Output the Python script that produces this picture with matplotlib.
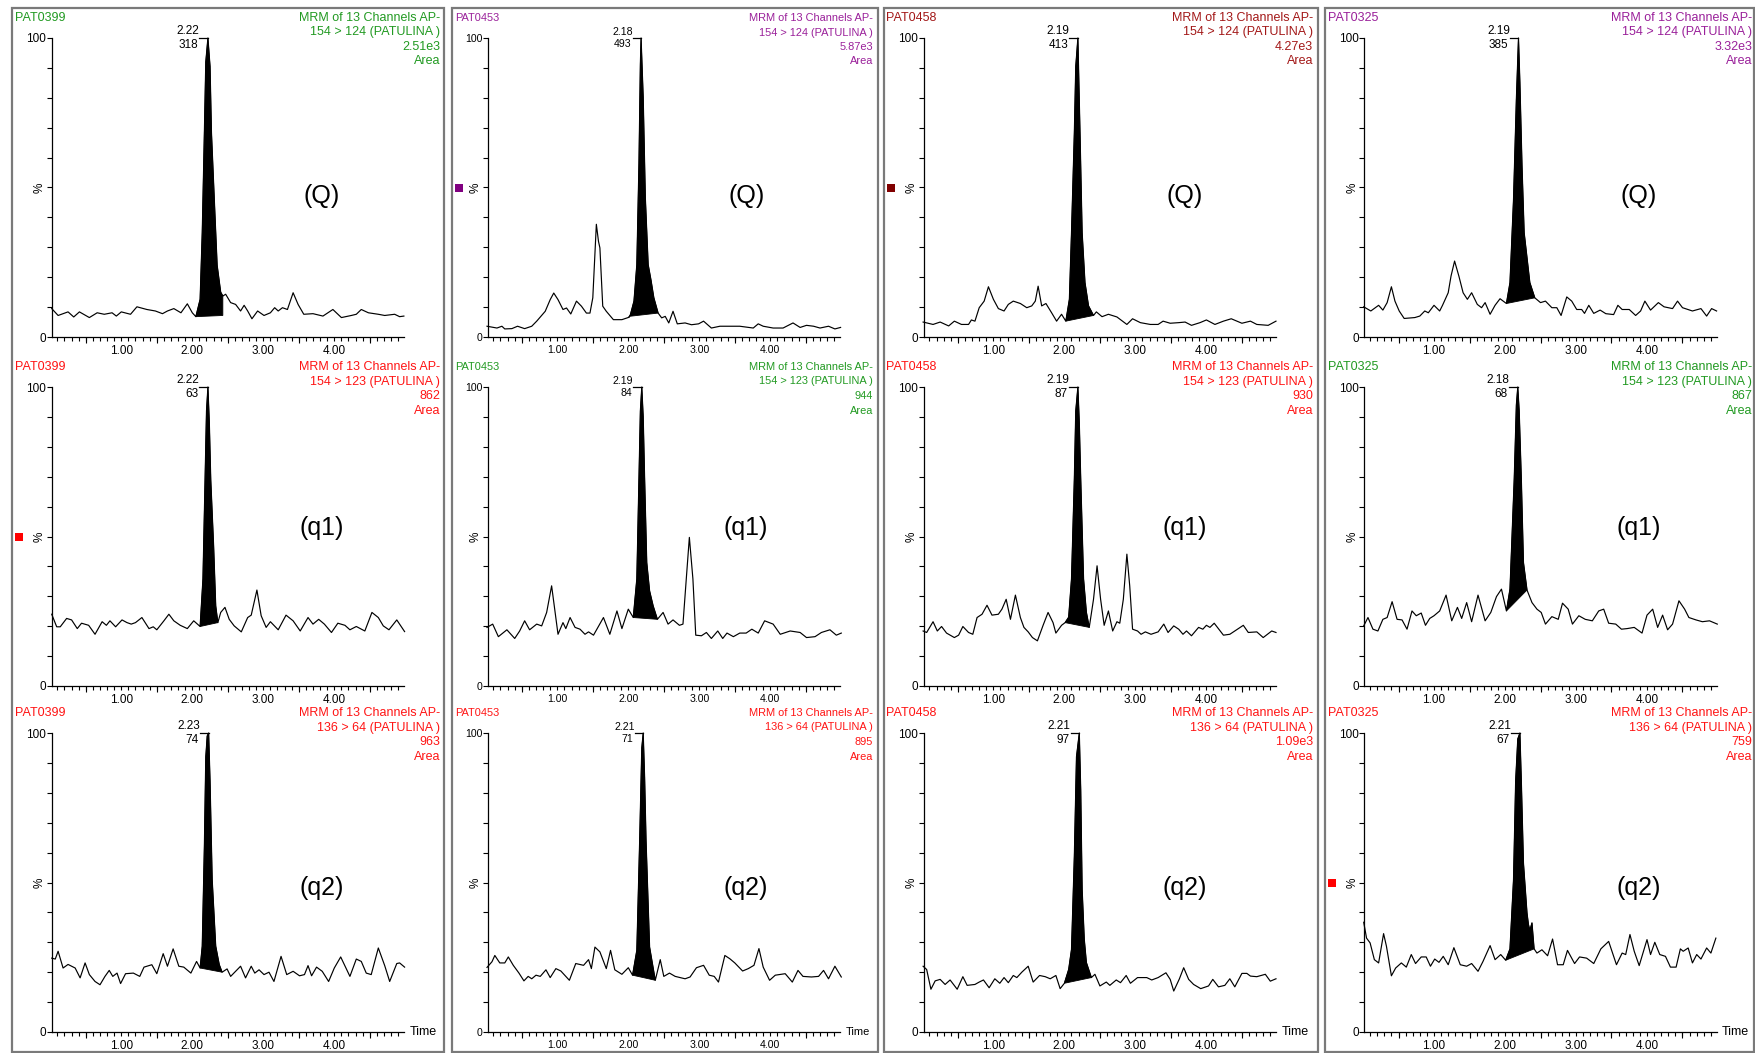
import matplotlib.pyplot as plt
from matplotlib.patches import Rectangle
from matplotlib.ticker import MultipleLocator, FixedLocator
from matplotlib import font_manager

# ---- data (time min, intensity %) ----
r1c1 = [(0.02,9.5),(0.11,7.2),(0.25,8.4),(0.33,6.7),(0.41,8.4),(0.55,6.5),(0.66,8.1),(0.76,7.6),(0.87,8.1),(0.93,7.0),
        (1.00,8.4),(1.13,7.6),(1.22,10.1),(1.36,9.2),(1.48,8.7),(1.58,7.8),(1.65,8.7),(1.74,9.5),(1.84,8.1),(1.93,11.1),
        (2.00,8.1),(2.05,6.8),(2.11,12.6),(2.14,34.9),(2.17,68.3),(2.19,92),(2.22,100),(2.25,90.5),(2.27,68.3),(2.31,46),
        (2.35,24),(2.40,15),(2.43,13.7),(2.47,14.3),(2.54,11.5),(2.61,10.9),(2.68,8.7),(2.73,10.6),(2.78,8.7),(2.84,6.1),
        (2.92,8.7),(3.01,7.2),(3.10,8.1),(3.16,9.8),(3.21,8.7),(3.27,9.8),(3.34,9.2),(3.42,14.8),(3.49,10.9),(3.57,7.6),
        (3.70,7.8),(3.84,7.0),(3.98,9.2),(4.10,6.5),(4.24,7.2),(4.31,7.6),(4.38,9.2),(4.48,8.1),(4.62,7.6),(4.71,7.2),
        (4.85,7.6),(4.92,6.8),(4.98,7.0)]
r1c2 = [(0.01,3.6),(0.15,3.0),(0.22,3.6),(0.26,2.7),(0.36,2.8),(0.44,3.6),(0.54,2.8),(0.64,3.6),(0.71,5.3),(0.83,8.6),
        (0.90,12.5),(0.95,14.7),(1.01,12.5),(1.08,9.2),(1.13,9.7),(1.19,7.7),(1.27,12.0),(1.34,10.3),(1.41,8.0),(1.46,8.0),
        (1.50,13.1),(1.55,37.7),(1.58,32),(1.60,29.8),(1.64,10.3),(1.69,8.6),(1.79,5.8),(1.91,5.8),(2.01,6.6),(2.03,7.5),
        (2.08,12),(2.12,24.2),(2.15,57.8),(2.17,91.3),(2.18,100),(2.21,80.1),(2.24,46.6),(2.28,24.2),(2.32,19),(2.36,13.1),
        (2.42,8.0),(2.47,6.4),(2.52,6.9),(2.57,4.7),(2.63,8.6),(2.69,4.4),(2.80,4.7),(2.89,4.1),(2.99,4.4),(3.06,5.3),
        (3.17,3.0),(3.29,3.6),(3.57,3.6),(3.76,3.0),(3.83,4.4),(3.90,3.6),(4.04,3.0),(4.18,3.0),(4.32,4.7),(4.42,3.2),
        (4.51,3.9),(4.61,3.6),(4.70,3.0),(4.82,3.6),(4.91,2.7),(4.99,3.2)]
r1c3 = [(0.01,5.0),(0.15,4.2),(0.25,5.0),(0.37,3.7),(0.45,5.3),(0.55,4.2),(0.65,4.2),(0.69,5.7),(0.74,5.3),(0.80,9.8),
        (0.87,12.0),(0.93,16.8),(1.00,12.6),(1.07,9.5),(1.15,8.7),(1.21,10.9),(1.28,12.0),(1.38,11.2),(1.47,9.8),(1.54,10.4),
        (1.59,12.0),(1.63,17.0),(1.68,10.4),(1.74,11.2),(1.82,8.1),(1.89,5.3),(1.96,7.6),(2.02,5.3),(2.07,12.6),(2.10,34.9),
        (2.14,68.3),(2.16,90.5),(2.19,100),(2.22,68.3),(2.25,34.9),(2.29,18.2),(2.34,10.4),(2.41,7.2),(2.45,8.4),(2.53,6.8),
        (2.62,7.6),(2.74,6.7),(2.88,4.2),(2.96,6.1),(3.07,4.8),(3.21,4.2),(3.32,4.2),(3.39,5.3),(3.49,4.6),(3.61,4.8),
        (3.70,5.0),(3.79,3.9),(3.91,4.8),(4.00,5.7),(4.12,4.2),(4.24,5.3),(4.35,6.1),(4.50,4.6),(4.62,5.3),(4.71,4.2),
        (4.87,3.9),(4.98,5.3)]
r1c4 = [(0.01,10.1),(0.11,8.7),(0.22,10.6),(0.28,9.0),(0.34,11.5),(0.40,16.8),(0.45,12.0),(0.51,8.7),(0.58,6.2),(0.73,6.5),
        (0.80,7.0),(0.87,8.7),(0.92,8.1),(1.00,10.6),(1.08,8.7),(1.12,10.6),(1.20,14.8),(1.24,20.4),(1.29,25.4),(1.35,20.4),
        (1.41,14.8),(1.47,12.6),(1.53,14.8),(1.61,10.9),(1.67,9.8),(1.72,11.5),(1.79,7.6),(1.86,10.6),(1.93,12.8),(2.02,11.2),
        (2.07,18.2),(2.12,46),(2.16,79.4),(2.19,100),(2.21,85),(2.24,57),(2.27,34.9),(2.35,18.2),(2.42,13.1),(2.50,11.5),
        (2.57,12.0),(2.66,9.8),(2.73,9.8),(2.79,7.2),(2.87,13.4),(2.94,12.0),(3.01,9.2),(3.08,9.2),(3.12,7.9),(3.18,10.6),
        (3.25,7.9),(3.34,9.0),(3.42,7.8),(3.53,7.5),(3.59,10.6),(3.65,9.2),(3.75,9.2),(3.84,7.2),(3.91,8.7),(3.97,12.0),
        (4.05,9.0),(4.16,11.5),(4.24,10.1),(4.36,9.5),(4.43,12.0),(4.50,9.8),(4.64,8.7),(4.76,9.5),(4.84,7.0),(4.91,9.5),
        (4.98,8.7)]

r2c1 = [(0.02,24.0),(0.09,19.8),(0.14,19.8),(0.23,22.6),(0.30,22.1),(0.38,19.2),(0.44,21.0),(0.54,20.3),(0.63,17.3),(0.73,21.5),
        (0.79,20.3),(0.84,21.8),(0.92,19.8),(1.01,22.1),(1.08,21.2),(1.14,20.7),(1.20,21.2),(1.29,22.9),(1.39,19.2),(1.45,19.8),
        (1.50,18.8),(1.60,21.8),(1.67,24.0),(1.74,21.8),(1.83,20.3),(1.93,19.2),(2.02,21.8),(2.11,19.9),(2.15,35.8),(2.18,69.3),
        (2.20,92),(2.22,100),(2.24,88),(2.26,69),(2.30,47),(2.33,26.8),(2.36,21.2),(2.40,24.6),(2.46,26.3),(2.52,22.3),
        (2.59,20.1),(2.69,18.1),(2.78,22.9),(2.83,23.7),(2.91,32.1),(2.97,23.5),(3.04,19.6),(3.10,21.5),(3.21,18.8),(3.32,23.7),
        (3.42,21.8),(3.52,18.4),(3.63,22.9),(3.70,20.7),(3.78,22.3),(3.86,20.7),(3.96,17.9),(4.05,21.0),(4.15,20.3),(4.22,18.8),
        (4.31,19.9),(4.43,18.4),(4.53,24.6),(4.62,22.9),(4.69,20.1),(4.77,18.8),(4.88,22.1),(4.99,18.2)]
r2c2 = [(0.01,19.6),(0.09,20.7),(0.17,16.5),(0.29,18.8),(0.40,15.9),(0.47,18.4),(0.54,21.8),(0.61,18.8),(0.71,20.7),(0.78,20.1),
        (0.85,24.6),(0.92,33.5),(1.01,17.3),(1.08,21.2),(1.12,19.2),(1.18,22.9),(1.25,19.6),(1.32,19.0),(1.39,17.3),(1.44,18.1),
        (1.51,17.0),(1.65,22.9),(1.74,17.3),(1.84,25.1),(1.91,19.2),(2.00,25.7),(2.07,22.9),(2.12,35.8),(2.15,69.3),(2.17,92),
        (2.19,100),(2.21,90),(2.23,69.3),(2.26,41.3),(2.30,31.8),(2.35,26.8),(2.41,22.3),(2.49,24.6),(2.56,20.7),(2.63,22.1),
        (2.72,20.3),(2.77,20.7),(2.82,36.9),(2.86,49.7),(2.91,35.8),(2.95,17.0),(3.03,16.8),(3.10,17.9),(3.17,15.9),(3.26,18.4),
        (3.33,15.9),(3.39,17.7),(3.48,16.5),(3.57,17.7),(3.66,17.7),(3.74,19.0),(3.83,17.7),(3.92,21.8),(4.04,20.7),(4.14,17.3),
        (4.28,18.4),(4.42,17.9),(4.51,16.2),(4.63,16.5),(4.72,17.9),(4.84,18.8),(4.93,17.0),(5.00,17.7)]
r2c3 = [(0.01,18.4),(0.06,17.9),(0.15,21.5),(0.21,18.4),(0.27,19.9),(0.34,17.7),(0.45,16.2),(0.51,17.0),(0.57,19.9),(0.65,17.9),
        (0.71,17.3),(0.77,22.9),(0.84,24.0),(0.91,27.0),(0.98,23.7),(1.07,24.0),(1.12,25.7),(1.18,29.0),(1.24,22.3),(1.31,30.4),
        (1.38,22.9),(1.43,19.6),(1.49,18.1),(1.55,16.2),(1.62,15.1),(1.70,20.3),(1.77,24.6),(1.84,21.2),(1.88,17.7),(1.96,20.3),
        (2.01,21.2),(2.06,23.0),(2.10,35.8),(2.14,69.3),(2.16,92),(2.19,100),(2.21,88),(2.23,69.3),(2.27,35.8),(2.31,24.6),
        (2.35,19.6),(2.41,29.0),(2.46,40.2),(2.51,29.0),(2.56,20.3),(2.62,25.1),(2.68,18.4),(2.74,21.5),(2.78,21.0),(2.83,29.0),
        (2.88,44.1),(2.92,33.5),(2.96,19.0),(3.03,18.4),(3.08,17.3),(3.14,18.1),(3.22,17.3),(3.32,18.1),(3.40,20.7),(3.46,17.9),
        (3.54,20.1),(3.61,19.0),(3.67,17.3),(3.72,18.4),(3.79,16.8),(3.89,19.6),(3.95,19.0),(4.00,20.3),(4.05,19.6),(4.11,21.0),
        (4.24,17.0),(4.33,17.3),(4.40,18.4),(4.52,20.3),(4.59,17.9),(4.71,18.1),(4.80,16.2),(4.92,18.4),(4.98,17.9)]
r2c4 = [(0.01,20.1),(0.07,22.9),(0.14,19.0),(0.21,18.4),(0.28,22.3),(0.34,22.9),(0.41,28.2),(0.48,22.3),(0.55,22.1),(0.62,19.0),
        (0.69,25.1),(0.75,23.5),(0.82,24.4),(0.88,20.3),(0.94,22.6),(1.00,23.5),(1.08,25.1),(1.17,30.4),(1.25,21.8),(1.33,26.3),
        (1.39,22.6),(1.46,27.9),(1.53,21.5),(1.62,30.4),(1.72,21.8),(1.80,24.6),(1.88,29.9),(1.95,32.4),(2.02,25.1),(2.07,32.4),
        (2.13,69.3),(2.16,94),(2.18,100),(2.20,92),(2.23,69.3),(2.26,41.3),(2.31,32.1),(2.38,27.9),(2.45,25.7),(2.51,24.6),
        (2.57,20.7),(2.66,23.2),(2.75,22.3),(2.81,27.7),(2.89,25.7),(2.95,20.7),(3.04,23.5),(3.13,22.3),(3.23,21.8),(3.32,25.1),
        (3.39,25.7),(3.46,21.0),(3.56,20.7),(3.64,19.0),(3.72,19.2),(3.82,19.6),(3.93,17.7),(4.00,23.7),(4.08,25.7),(4.15,19.6),
        (4.22,23.7),(4.29,18.8),(4.36,20.7),(4.45,28.5),(4.53,25.7),(4.59,22.9),(4.69,22.1),(4.78,21.5),(4.88,21.8),(4.99,20.7)]

r3c1 = [(0.02,24.7),(0.07,24.4),(0.11,27.0),(0.18,21.4),(0.25,22.6),(0.35,21.4),(0.42,18.1),(0.49,23.1),(0.55,19.2),(0.63,16.9),
        (0.70,15.8),(0.77,18.6),(0.83,20.6),(0.88,18.6),(0.94,19.7),(0.99,16.2),(1.06,19.5),(1.17,19.7),(1.26,18.6),(1.32,21.7),
        (1.43,22.5),(1.50,19.5),(1.59,26.2),(1.65,22.0),(1.73,27.8),(1.81,22.0),(1.88,21.7),(1.98,19.7),(2.06,23.6),(2.11,21.4),
        (2.14,28.7),(2.17,62),(2.19,92),(2.21,99),(2.23,100),(2.25,84),(2.28,51),(2.33,28.7),(2.38,22.5),(2.42,20.0),
        (2.49,21.1),(2.54,18.6),(2.61,20.3),(2.68,22.0),(2.75,18.1),(2.83,22.0),(2.88,19.7),(2.94,20.8),(3.01,19.2),(3.08,20.0),
        (3.15,16.9),(3.25,25.3),(3.33,19.2),(3.42,20.3),(3.51,18.8),(3.58,19.2),(3.63,22.2),(3.68,18.8),(3.75,21.7),(3.83,20.3),
        (3.92,16.9),(4.00,21.4),(4.09,25.1),(4.22,18.6),(4.31,24.4),(4.38,23.6),(4.45,19.7),(4.52,19.2),(4.62,28.1),(4.71,22.2),
        (4.78,16.9),(4.88,22.9),(4.92,23.1),(4.99,21.7)]
r3c2 = [(0.01,21.6),(0.08,23.5),(0.12,25.6),(0.19,23.1),(0.26,23.1),(0.31,25.1),(0.38,22.3),(0.46,19.7),(0.53,17.1),(0.59,18.6),
        (0.64,17.8),(0.70,19.0),(0.76,18.6),(0.84,20.8),(0.90,18.2),(0.98,21.2),(1.05,20.4),(1.17,17.3),(1.26,22.9),(1.37,22.3),
        (1.44,24.2),(1.48,21.2),(1.53,28.4),(1.60,26.8),(1.69,21.2),(1.75,27.3),(1.81,20.8),(1.91,19.3),(2.00,21.5),(2.06,19.0),
        (2.12,27.3),(2.16,64),(2.19,95),(2.21,100),(2.23,85),(2.25,64),(2.30,28.4),(2.38,17.3),(2.45,24.2),(2.50,18.6),
        (2.58,19.7),(2.66,18.6),(2.80,17.8),(2.87,18.4),(2.96,21.5),(3.06,22.3),(3.14,19.0),(3.21,18.6),(3.27,16.7),(3.36,25.6),
        (3.43,24.5),(3.50,23.1),(3.61,20.4),(3.69,21.2),(3.77,22.3),(3.84,27.9),(3.90,21.7),(3.99,17.3),(4.07,19.0),(4.21,19.5),
        (4.31,16.7),(4.39,20.6),(4.46,18.6),(4.58,18.4),(4.68,18.6),(4.75,20.6),(4.82,17.8),(4.91,22.0),(5.00,18.4)]
r3c3 = [(0.01,22.0),(0.06,20.9),(0.12,14.3),(0.18,17.1),(0.25,17.6),(0.32,15.9),(0.39,17.4),(0.49,14.3),(0.57,18.5),(0.63,15.6),
        (0.74,15.9),(0.80,16.7),(0.86,17.4),(0.94,14.8),(1.02,17.8),(1.09,16.3),(1.15,18.2),(1.21,16.5),(1.28,18.9),(1.33,18.2),
        (1.40,20.0),(1.49,22.0),(1.56,16.7),(1.65,18.9),(1.73,18.5),(1.80,17.8),(1.88,18.9),(1.94,14.5),(2.00,16.3),(2.06,20.9),
        (2.10,27.6),(2.14,58.8),(2.17,92),(2.21,100),(2.23,81),(2.25,47.7),(2.28,31),(2.31,23.2),(2.38,18.2),(2.43,19.3),
        (2.50,15.4),(2.59,16.7),(2.64,15.6),(2.73,17.4),(2.79,16.5),(2.87,18.9),(2.93,16.3),(3.03,18.2),(3.16,18.2),(3.23,17.4),
        (3.32,18.2),(3.43,19.8),(3.49,17.6),(3.54,13.7),(3.62,17.8),(3.68,21.5),(3.75,17.6),(3.82,15.9),(3.92,14.5),(4.03,15.4),
        (4.09,17.6),(4.17,15.1),(4.26,15.6),(4.33,17.8),(4.40,15.1),(4.50,19.6),(4.57,19.6),(4.62,18.7),(4.71,18.5),(4.83,19.3),
        (4.90,17.0),(4.98,17.8)]
r3c4 = [(0.01,36.7),(0.05,31.4),(0.10,29.8),(0.16,24.2),(0.22,23.1),(0.29,32.9),(0.33,28.7),(0.40,18.8),(0.46,21.4),(0.54,23.1),
        (0.61,21.7),(0.68,25.9),(0.74,22.9),(0.82,25.1),(0.89,25.1),(0.95,22.0),(1.01,24.4),(1.07,23.3),(1.13,25.3),(1.20,22.5),
        (1.28,28.2),(1.37,22.5),(1.46,22.0),(1.53,22.9),(1.62,20.3),(1.69,23.6),(1.79,28.9),(1.86,24.2),(1.94,25.9),(2.01,24.0),
        (2.07,27.8),(2.12,51),(2.15,84),(2.18,98),(2.21,100),(2.23,84),(2.26,56.5),(2.31,39.8),(2.33,36.0),(2.35,34.0),
        (2.38,36.5),(2.41,27.8),(2.45,26.4),(2.52,27.5),(2.60,25.5),(2.67,31.1),(2.74,22.5),(2.82,22.5),(2.88,27.3),(2.98,22.9),
        (3.05,25.1),(3.15,24.7),(3.25,22.9),(3.35,27.8),(3.46,30.3),(3.57,22.5),(3.65,26.4),(3.70,25.9),(3.76,32.6),(3.82,27.0),
        (3.89,22.2),(4.00,30.9),(4.05,25.9),(4.11,30.0),(4.18,25.9),(4.26,25.3),(4.33,21.7),(4.41,21.7),(4.47,27.8),(4.51,27.0),
        (4.58,28.1),(4.64,23.1),(4.70,25.9),(4.76,24.4),(4.84,28.1),(4.90,26.4),(4.97,31.4)]

traces = [[r1c1, r1c2, r1c3, r1c4], [r2c1, r2c2, r2c3, r2c4], [r3c1, r3c2, r3c3, r3c4]]

# integration window and baseline ends of the filled peak
peak_win = [[(2.05, 2.43), (2.01, 2.42), (2.02, 2.41), (2.02, 2.42)],
            [(2.11, 2.36), (2.07, 2.41), (2.01, 2.35), (2.02, 2.31)],
            [(2.11, 2.42), (2.06, 2.38), (2.00, 2.38), (2.01, 2.41)]]
peak_base = [[(6.8, 7.2), (6.9, 8.0), (5.3, 7.2), (11.2, 13.1)],
             [(19.9, 21.2), (22.9, 22.3), (21.2, 19.6), (25.1, 32.1)],
             [(21.4, 20.0), (19.0, 17.3), (16.3, 18.2), (24.0, 27.8)]]

samples = ["PAT0399", "PAT0453", "PAT0458", "PAT0325"]
transitions = ["154 > 124 (PATULINA )", "154 > 123 (PATULINA )", "136 > 64 (PATULINA )"]
areas = [["2.51e3", "5.87e3", "4.27e3", "3.32e3"],
         ["862", "944", "930", "867"],
         ["963", "895", "1.09e3", "759"]]
rts = [["2.22", "2.18", "2.19", "2.19"],
       ["2.22", "2.19", "2.19", "2.18"],
       ["2.23", "2.21", "2.21", "2.21"]]
heights = [["318", "493", "413", "385"],
           ["63", "84", "87", "68"],
           ["74", "71", "97", "67"]]
ion_labels = ["(Q)", "(q1)", "(q2)"]

green, purple, darkred, red = '#229a22', '#9a209a', '#a31818', '#ff1414'
text_colors = [[green, purple, darkred, purple],
               [red, green, red, green],
               [red, red, red, red]]
# little coloured squares left of some traces: (row, col, colour)
squares = [(0, 1, '#800080'), (0, 2, '#800000'), (1, 0, '#ff0000'), (2, 3, '#ff0000')]

# ---- layout (pixels) ----
W, H = 1756, 1053
px_min = 71.0
t0_px = [50.3, 486.3, 922.4, 1363.0]
y100_px = [38, 387, 733]
axis_h = 299
xmin, xmax = 0.02, 4.98
border_l = [12, 452, 884, 1325]
border_r = [444, 878, 1318, 1754]
name_x = [15, 455, 886, 1328]
head_x = [440, 873, 1313, 1752]
lab_x = [3.82, 3.66, 3.70, 3.88]
lab_y = [47, 53, 48]

plt.rcParams['font.family'] = ['Liberation Sans', 'DejaVu Sans']
installed = {f.name for f in font_manager.fontManager.ttflist}
narrow_ok = 'Liberation Sans Narrow' in installed

fig = plt.figure(figsize=(W / 100, H / 100), dpi=100)

for c in range(4):
    fig.add_artist(Rectangle((border_l[c] / W, 1 - 1051.5 / H), (border_r[c] - border_l[c]) / W, 1043.5 / H,
                             transform=fig.transFigure, fill=False, ec='#7a7a7a', lw=1.6))

for r in range(3):
    for c in range(4):
        if c == 1 and narrow_ok:
            fam, fs_small, fs_head = ['Liberation Sans Narrow', 'DejaVu Sans'], 9, 9.4
        elif c == 1:
            fam, fs_small, fs_head = ['Liberation Sans', 'DejaVu Sans'], 7.6, 7.9
        else:
            fam, fs_small, fs_head = ['Liberation Sans', 'DejaVu Sans'], 8.5, 9
        left = t0_px[c] + xmin * px_min
        width = (xmax - xmin) * px_min
        bottom = H - (y100_px[r] + axis_h)
        ax = fig.add_axes([left / W, bottom / H, width / W, axis_h / H])

        t, y = zip(*traces[r][c])
        ax.plot(t, y, color='k', lw=0.85, clip_on=False)
        ts, te = peak_win[r][c]
        bs, be = peak_base[r][c]
        fx = [ts] + [a for a in t if ts <= a <= te] + [te]
        fy = [bs] + [b for a, b in zip(t, y) if ts <= a <= te] + [be]
        ax.fill(fx, fy, color='k', lw=0.6, clip_on=False)

        rt = float(rts[r][c])
        ax.plot([rt - 0.12, rt], [100, 100], color='k', lw=0.9, clip_on=False)
        ax.annotate(rts[r][c], xy=(rt - 0.12, 100), xytext=(0, 0.5), textcoords='offset points',
                    ha='right', va='bottom', fontsize=fs_small, family=fam)
        ax.annotate(heights[r][c], xy=(rt - 0.12, 100), xytext=(-1, -0.5), textcoords='offset points',
                    ha='right', va='top', fontsize=fs_small, family=fam)

        ax.text(lab_x[c], lab_y[r], ion_labels[r], ha='center', va='center', fontsize=18)

        ax.set_xlim(xmin, xmax)
        ax.set_ylim(0, 100)
        for s in ('top', 'right'):
            ax.spines[s].set_visible(False)
        for s in ('left', 'bottom'):
            ax.spines[s].set_linewidth(0.9)
        ax.xaxis.set_major_locator(FixedLocator([1, 2, 3, 4]))
        ax.set_xticklabels(['1.00', '2.00', '3.00', '4.00'], family=fam)
        ax.xaxis.set_minor_locator(MultipleLocator(0.1))
        ax.tick_params(axis='x', which='both', direction='out', length=3, width=0.8, pad=2.5,
                       labelsize=fs_small)
        ax.plot([0.5, 1.5, 2.5, 3.5, 4.5], [0] * 5, ls='none', marker=3, ms=4.5, mew=0.8,
                color='k', clip_on=False)
        ax.set_yticks([0, 100])
        ax.set_yticklabels(['0', '100'], family=fam)
        ax.yaxis.set_minor_locator(MultipleLocator(10))
        ax.tick_params(axis='y', which='both', direction='out', length=3.5, width=0.8, pad=0.5,
                       labelsize=fs_small)
        ax.annotate('%', xy=(0, 50), xycoords=('axes fraction', 'data'), xytext=(-8.5, 0),
                    textcoords='offset points', rotation=90, ha='center', va='center', fontsize=8.5)
        if r == 2:
            ax.annotate('Time', xy=(1, 0), xycoords='axes fraction', xytext=(4, 0),
                        textcoords='offset points', ha='left', va='center', fontsize=fs_head, family=fam)

        col = text_colors[r][c]
        ytop = y100_px[r] - 20
        fig.text(name_x[c] / W, 1 - ytop / H, samples[c], ha='left', va='center', color=col,
                 fontsize=fs_head, family=fam)
        lines = ['MRM of 13 Channels AP-', transitions[r], areas[r][c], 'Area']
        for k, line in enumerate(lines):
            fig.text(head_x[c] / W, 1 - (ytop + 14.5 * k) / H, line, ha='right', va='center',
                     color=col, fontsize=fs_head, family=fam)

for r, c, sc in squares:
    yc = y100_px[r] + axis_h / 2
    xc = border_l[c] + 7
    fig.add_artist(Rectangle(((xc - 4) / W, 1 - (yc + 4) / H), 8 / W, 8 / H,
                             transform=fig.transFigure, color=sc, lw=0))

fig.savefig('out.png', dpi=100)
